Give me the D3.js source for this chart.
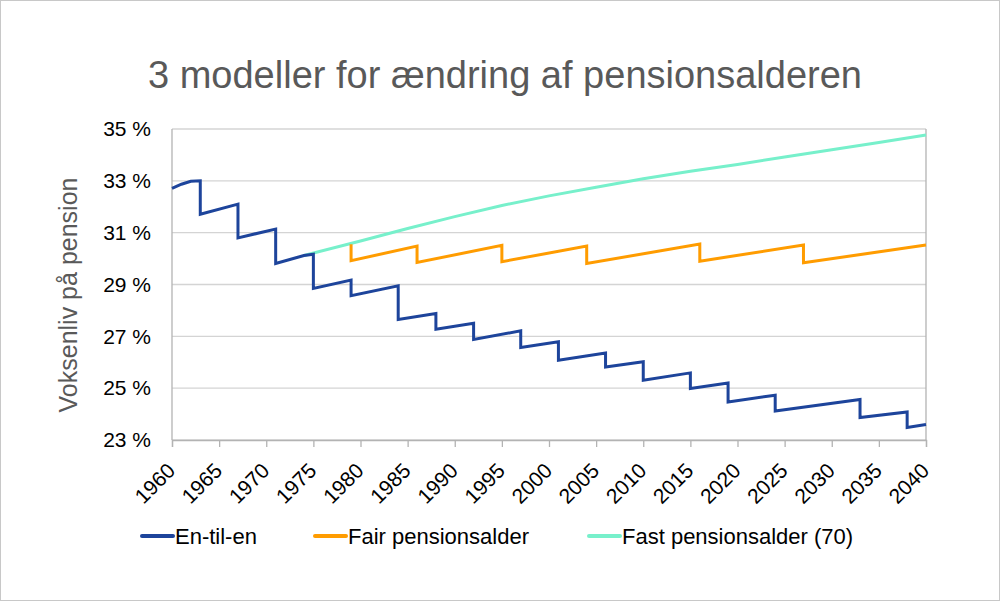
<!DOCTYPE html>
<html>
<head>
<meta charset="utf-8">
<script src="https://cdn.jsdelivr.net/npm/d3@7"></script>
<style>
  body { margin: 0; background: #fff; }
  svg { font-family: "Liberation Sans", Arial, sans-serif; }
</style>
</head>
<body>
<div id="chart-area"></div>
<script>
// data: [year, percent]
var enTilEn = [
  [1960, 32.71], [1961, 32.87], [1962, 32.98], [1963, 33.0], [1963, 31.71],
  [1967, 32.1], [1967, 30.8], [1971, 31.14], [1971, 29.81], [1974, 30.12],
  [1975, 30.17], [1975, 28.85], [1979, 29.17], [1979, 28.57], [1984, 28.95],
  [1984, 27.65], [1988, 27.88], [1988, 27.27], [1992, 27.5], [1992, 26.88],
  [1997, 27.21], [1997, 26.57], [2001, 26.79], [2001, 26.08], [2006, 26.36],
  [2006, 25.82], [2010, 26.02], [2010, 25.31], [2015, 25.59], [2015, 24.99],
  [2019, 25.2], [2019, 24.47], [2024, 24.73], [2024, 24.12], [2033, 24.56],
  [2033, 23.87], [2038, 24.08], [2038, 23.48], [2040, 23.6]
];
var fairAlder = [
  [1979, 30.55], [1979, 29.92], [1986, 30.48], [1986, 29.85], [1995, 30.51],
  [1995, 29.88], [2004, 30.48], [2004, 29.81], [2016, 30.56], [2016, 29.9],
  [2027, 30.52], [2027, 29.84], [2040, 30.52]
];
var fastAlder = [
  [1974, 30.12], [1980, 30.68], [1985, 31.16], [1990, 31.62], [1995, 32.05],
  [2000, 32.42], [2005, 32.75], [2010, 33.08], [2015, 33.37], [2020, 33.63],
  [2025, 33.92], [2030, 34.2], [2035, 34.48], [2040, 34.77]
];
var seriesNames = ["En-til-en", "Fair pensionsalder", "Fast pensionsalder (70)"];
var seriesColors = ["#1d449b", "#ff9c00", "#77f0cb"];
var xTicks = [1960, 1965, 1970, 1975, 1980, 1985, 1990, 1995, 2000,
              2005, 2010, 2015, 2020, 2025, 2030, 2035, 2040];
var yTicks = [23, 25, 27, 29, 31, 33, 35];

var margin = {top: 129, left: 172, bottom: 161, right: 74};
var width = 1000 - margin.left - margin.right;
var height = 601 - margin.top - margin.bottom;

var svg = d3.select("#chart-area")
  .append("svg")
    .attr("width", 1000)
    .attr("height", 601);

// outer frame
svg.append("rect")
  .attr("x", 0.5).attr("y", 0.5)
  .attr("width", 999).attr("height", 600)
  .attr("fill", "#fff")
  .attr("stroke", "#c8c8c8");

// title
svg.append("text")
  .attr("x", 505)
  .attr("y", 88)
  .attr("text-anchor", "middle")
  .attr("font-size", "38px")
  .attr("fill", "#595959")
  .text("3 modeller for ændring af pensionsalderen");

var g = svg.append("g")
  .attr("transform", "translate(" + margin.left + "," + margin.top + ")");

var x = d3.scaleLinear().domain([1960, 2040]).range([0, width]);
var y = d3.scaleLinear().domain([23, 35]).range([height, 0]);

// grid lines
g.append("g")
  .selectAll("line")
  .data(yTicks)
  .enter().append("line")
    .attr("x1", 0).attr("x2", width)
    .attr("y1", function(d){ return y(d); })
    .attr("y2", function(d){ return y(d); })
    .attr("stroke", "#d4d4d4")
    .attr("stroke-width", 1.3);

// frame sides
g.append("line").attr("x1", 0).attr("x2", 0).attr("y1", 0).attr("y2", height)
  .attr("stroke", "#b3b3b3").attr("stroke-width", 1.3);
g.append("line").attr("x1", width).attr("x2", width).attr("y1", 0).attr("y2", height)
  .attr("stroke", "#b3b3b3").attr("stroke-width", 1.3);

// X axis
var xAxisCall = d3.axisBottom(x)
  .tickValues(xTicks)
  .tickFormat(d3.format("d"))
  .tickSize(7);
var xAxis = g.append("g")
  .attr("transform", "translate(0," + height + ")")
  .call(xAxisCall);
xAxis.select(".domain").attr("stroke", "#b3b3b3").attr("stroke-width", 1.3);
xAxis.selectAll(".tick line").attr("stroke", "#b3b3b3").attr("stroke-width", 1.3);
xAxis.selectAll(".tick text")
  .attr("font-size", "21px")
  .attr("font-family", "Liberation Sans, Arial, sans-serif")
  .attr("fill", "#000")
  .attr("text-anchor", "end")
  .attr("x", 0).attr("y", 0)
  .attr("dx", 0).attr("dy", 0)
  .attr("transform", "translate(4,32) rotate(-45)");

// Y axis
var yAxisCall = d3.axisLeft(y)
  .tickValues(yTicks)
  .tickFormat(function(d){ return d + " %"; })
  .tickSize(0)
  .tickPadding(21);
var yAxis = g.append("g").call(yAxisCall);
yAxis.select(".domain").remove();
yAxis.selectAll(".tick text")
  .attr("font-size", "21px")
  .attr("font-family", "Liberation Sans, Arial, sans-serif")
  .attr("fill", "#000");

// Y label
g.append("text")
  .attr("transform", "rotate(-90)")
  .attr("x", -166)
  .attr("y", -95)
  .attr("text-anchor", "middle")
  .attr("font-size", "25px")
  .attr("fill", "#595959")
  .text("Voksenliv på pension");

// lines
var line = d3.line()
  .x(function(d){ return x(d[0]); })
  .y(function(d){ return y(d[1]); });

var allSeries = [enTilEn, fairAlder, fastAlder];
[2, 1, 0].forEach(function(i){
  g.append("path")
    .datum(allSeries[i])
    .attr("fill", "none")
    .attr("stroke", seriesColors[i])
    .attr("stroke-width", 3)
    .attr("stroke-linejoin", "miter")
    .attr("d", line);
});

// legend
var legendX = [142, 315, 589];
seriesNames.forEach(function(name, i){
  var row = svg.append("g")
    .attr("transform", "translate(" + legendX[i] + ",536)");
  row.append("line")
    .attr("x1", 0).attr("x2", 31)
    .attr("stroke", seriesColors[i])
    .attr("stroke-width", 4)
    .attr("stroke-linecap", "round");
  row.append("text")
    .attr("x", 33)
    .attr("y", 8)
    .attr("font-size", "22px")
    .attr("fill", "#000")
    .text(name);
});
</script>
</body>
</html>
